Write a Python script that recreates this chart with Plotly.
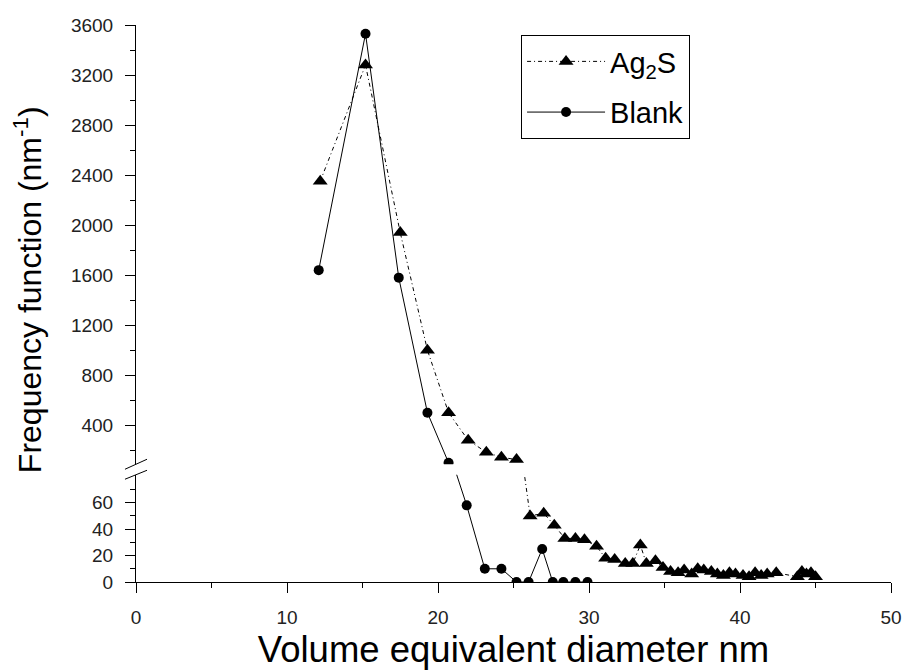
import plotly.graph_objects as go

# ---- data ----
ag_x = [12.2, 15.2, 17.5, 19.3, 20.7, 22.0, 23.2, 24.2, 25.2, 26.1, 27.0, 27.7,
        28.4, 29.1, 29.7, 30.5, 31.1, 31.7, 32.4, 32.9, 33.4, 33.8, 34.4, 34.9,
        35.4, 35.9, 36.3, 36.8, 37.2, 37.6, 38.1, 38.5, 38.9, 39.3, 39.7, 40.2,
        40.6, 41.0, 41.4, 41.8, 42.4, 43.8, 44.1, 44.4, 44.7, 45.0]
ag_y = [2350, 3280, 1940, 1000, 500, 280, 184, 144, 125, 50, 52, 43,
        33, 33, 32, 27, 18, 17, 14, 14, 28, 14, 16, 11,
        8, 7, 9, 6, 10, 9, 8, 6, 5, 7, 6, 5,
        4, 7, 5, 6, 7, 4, 8, 6, 7, 4]

bl_x = [12.1, 15.2, 17.4, 19.3, 20.7, 21.9, 23.1, 24.2, 25.2, 26.0, 26.9,
        27.6, 28.3, 29.1, 29.9]
bl_y = [1640, 3530, 1580, 500, 100, 58, 10, 10, 0, 0, 25,
        0, 0, 0, 0]

x_ticks = [0, 10, 20, 30, 40, 50]
x_minor = [5, 15, 25, 35, 45]
upper_ticks = [400, 800, 1200, 1600, 2000, 2400, 2800, 3200, 3600]
upper_minor = [200, 600, 1000, 1400, 1800, 2200, 2600, 3000, 3400]
lower_ticks = [0, 20, 40, 60]
lower_minor = [10, 30, 50, 70]

UPPER_RANGE = [88, 3600]
LOWER_RANGE = [0, 81.2]

FONT = "Liberation Sans, Arial, sans-serif"


def upper_part(xs, ys):
    pts = [(a, b) for a, b in zip(xs, ys) if b >= UPPER_RANGE[0]]
    return [p[0] for p in pts], [p[1] for p in pts]


series = [
    dict(x=ag_x, y=ag_y, name="Ag<sub>2</sub>S", group="ag",
         line=dict(color="black", width=1, dash="4px,3px,1px,3px"),
         marker=dict(symbol="triangle-up", size=13, color="black")),
    dict(x=bl_x, y=bl_y, name="Blank", group="bl",
         line=dict(color="black", width=1),
         marker=dict(symbol="circle", size=10, color="black")),
]

fig = go.Figure()
# lower panel: all points
for s in series:
    fig.add_trace(go.Scatter(
        x=s["x"], y=s["y"], yaxis="y", xaxis="x", mode="lines+markers",
        name=s["name"], legendgroup=s["group"], showlegend=False,
        line=s["line"], marker=s["marker"],
    ))
# upper panel: points above the break
for s in series:
    ux, uy = upper_part(s["x"], s["y"])
    fig.add_trace(go.Scatter(
        x=ux, y=uy, yaxis="y2", xaxis="x", mode="lines+markers",
        name=s["name"], legendgroup=s["group"], showlegend=True,
        line=s["line"], marker=s["marker"],
    ))

LOW_TOP = 0.1926
UP_BOT = 0.2114

axis_common = dict(
    showline=True, linecolor="black", linewidth=1, ticks="outside",
    ticklen=10, tickwidth=1, tickcolor="black", showgrid=False, zeroline=False,
    tickfont=dict(family=FONT, size=19, color="#222"), ticklabelstandoff=8,
    automargin=False,
)

fig.update_layout(
    width=904, height=670,
    margin=dict(l=136, r=13, t=25, b=88),
    paper_bgcolor="white", plot_bgcolor="white",
    font=dict(family=FONT, color="black"),
    xaxis=dict(
        range=[0, 50], anchor="y", tickmode="array", tickvals=x_ticks,
        minor=dict(tickmode="array", tickvals=x_minor, ticklen=5, ticks="outside",
                   tickcolor="black"),
        title=dict(text="Volume equivalent diameter nm",
                   font=dict(family=FONT, size=36.5, color="black"), standoff=25),
        **axis_common,
    ),
    yaxis=dict(
        domain=[0, LOW_TOP], range=LOWER_RANGE, anchor="x", tickmode="array",
        tickvals=lower_ticks,
        minor=dict(tickmode="array", tickvals=lower_minor, ticklen=5, ticks="outside",
                   tickcolor="black"),
        **axis_common,
    ),
    yaxis2=dict(
        domain=[UP_BOT, 1], range=UPPER_RANGE, anchor="x", tickmode="array",
        tickvals=upper_ticks,
        minor=dict(tickmode="array", tickvals=upper_minor, ticklen=5, ticks="outside",
                   tickcolor="black"),
        **axis_common,
    ),
    legend=dict(
        x=0.51, y=0.982, xanchor="left", yanchor="top",
        bordercolor="black", borderwidth=1, bgcolor="white",
        font=dict(family=FONT, size=29, color="black"),
        itemwidth=78,
    ),
    annotations=[dict(
        text="Frequency function (nm<sup>-1</sup>)", textangle=-90,
        xref="paper", yref="paper", x=-0.1430, y=0.524,
        xanchor="center", yanchor="middle", showarrow=False,
        font=dict(family=FONT, size=32, color="black"),
    )],
    shapes=[
        dict(type="line", xref="paper", yref="paper", x0=-0.0146, x1=0.0146,
             y0=0.2024, y1=0.2204, line=dict(color="black", width=1)),
        dict(type="line", xref="paper", yref="paper", x0=-0.0146, x1=0.0146,
             y0=0.1845, y1=0.2006, line=dict(color="black", width=1)),
    ],
)

fig.write_html("out.html")
